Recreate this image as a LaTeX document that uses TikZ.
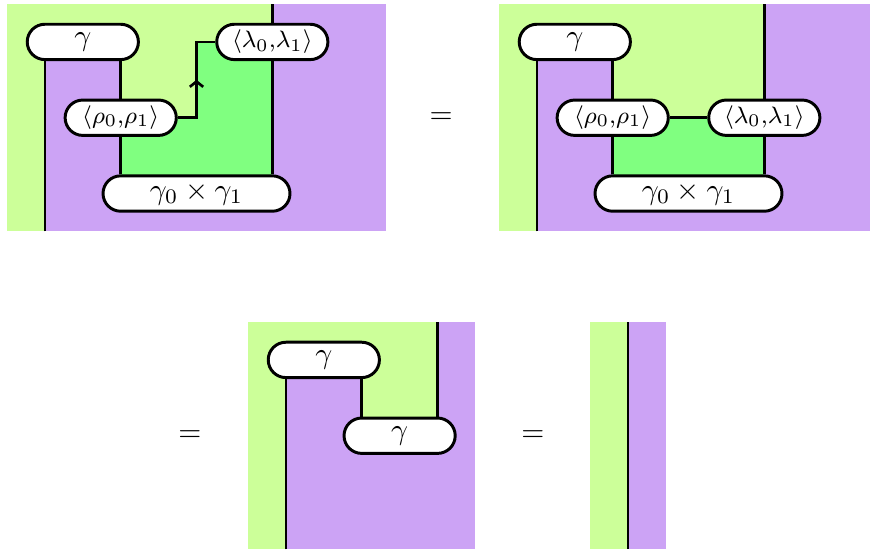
\documentclass[tikz,border=0pt]{standalone}
\usepackage{amsmath,amssymb}
\usetikzlibrary{calc,arrows.meta,decorations.markings}
\definecolor{regl}{RGB}{204,255,153}
\definecolor{regp}{RGB}{204,163,245}
\definecolor{regg}{RGB}{128,255,128}
\tikzset{
  wire/.style  = {line width=0.9pt},
  bx/.style    = {draw, fill=white, line width=1pt, rounded corners=0.21cm,
                  inner sep=0pt, minimum width=1.32cm, minimum height=0.42cm},
  bxl/.style   = {bx, minimum width=2.22cm},
  lbl/.style   = {font=\footnotesize},
  uparr/.style = {postaction={decorate}, decoration={markings,
                  mark=at position 0.5 with {\arrow{Straight Barb[length=1.8pt,width=4.5pt]}}}},
}

\begin{document}
\begin{tikzpicture}[x=0.45cm,y=0.45cm]
  \useasboundingbox (0,0) rectangle (22.955,-14.565);
  % top left
  \begin{scope}[shift={(0.185,-0.106)}]
    \fill[regl] (0,0) rectangle (10,-6);
    \fill[regp] (7,0) rectangle (10,-6);
    \fill[regp] (1,-5) rectangle (10,-6);
    \fill[regp] (1,-1) rectangle (3,-5);
    \fill[regg] (3,-3) -- (5,-3) -- (5,-1) -- (7,-1) -- (7,-5) -- (3,-5) -- cycle;
    \coordinate (a1) at (1,-6);
    \coordinate (a3) at (3,-6);
    \coordinate (a7) at (7,0);
    \coordinate (ka) at (5,-1);
    \node[bx] (ga) at (2,-1) {$\gamma$};
    \node[bx,lbl] (rhoa) at (3,-3) {$\langle\rho_0{,}\rho_1\rangle$};
    \node[bx,lbl] (lama) at (7,-1) {$\langle\lambda_0{,}\lambda_1\rangle$};
    \node[bxl] (proda) at (5,-5) {$\gamma_0\times\gamma_1$};
    \draw[wire] (a1) -- (a1 |- ga.south);
    \draw[wire] (ga.south -| a3) -- (rhoa.north);
    \draw[wire] (rhoa.south) -- (proda.north -| a3);
    \draw[wire] (a7) -- (lama.north);
    \draw[wire] (lama.south) -- (proda.north -| a7);
    \draw[wire,uparr] (rhoa.east) -| (ka) -- (lama.west);
  \end{scope}
  \node (eqa) at (11.636,-3.113) {$=$};
  % top right
  \begin{scope}[shift={(13.166,-0.106)}]
    \fill[regl] (0,0) rectangle (9.79,-6);
    \fill[regp] (7,0) rectangle (9.79,-6);
    \fill[regp] (1,-5) rectangle (9.79,-6);
    \fill[regp] (1,-1) rectangle (3,-5);
    \fill[regg] (3,-3) rectangle (7,-5);
    \coordinate (b1) at (1,-6);
    \coordinate (b3) at (3,-6);
    \coordinate (b7) at (7,0);
    \node[bx] (gb) at (2,-1) {$\gamma$};
    \node[bx,lbl] (rhob) at (3,-3) {$\langle\rho_0{,}\rho_1\rangle$};
    \node[bx,lbl] (lamb) at (7,-3) {$\langle\lambda_0{,}\lambda_1\rangle$};
    \node[bxl] (prodb) at (5,-5) {$\gamma_0\times\gamma_1$};
    \draw[wire] (b1) -- (b1 |- gb.south);
    \draw[wire] (gb.south -| b3) -- (rhob.north);
    \draw[wire] (rhob.south) -- (prodb.north -| b3);
    \draw[wire] (b7) -- (lamb.north);
    \draw[wire] (lamb.south) -- (prodb.north -| b7);
    \draw[wire] (rhob.east) -- (lamb.west);
  \end{scope}
  % bottom
  \node (eqb) at (5.013,-11.504) {$=$};
  \begin{scope}[shift={(6.544,-8.496)}]
    \fill[regl] (0,0) rectangle (6,-6);
    \fill[regp] (5,0) rectangle (6,-3);
    \fill[regp] (1,-3) rectangle (6,-6);
    \fill[regp] (1,-1) rectangle (3,-3);
    \coordinate (c1) at (1,-6);
    \coordinate (c3) at (3,-6);
    \coordinate (c5) at (5,0);
    \node[bx] (gc) at (2,-1) {$\gamma$};
    \node[bx] (gd) at (4,-3) {$\gamma$};
    \draw[wire] (c1) -- (c1 |- gc.south);
    \draw[wire] (gc.south -| c3) -- (gd.north -| c3);
    \draw[wire] (c5) -- (gd.north -| c5);
  \end{scope}
  \node (eqc) at (14.063,-11.504) {$=$};
  \begin{scope}[shift={(15.567,-8.496)}]
    \fill[regl] (0,0) rectangle (1,-6);
    \fill[regp] (1,0) rectangle (2,-6);
    \coordinate (d1) at (1,0);
    \coordinate (d2) at (1,-6);
    \draw[wire] (d1) -- (d2);
  \end{scope}
\end{tikzpicture}
\end{document}
